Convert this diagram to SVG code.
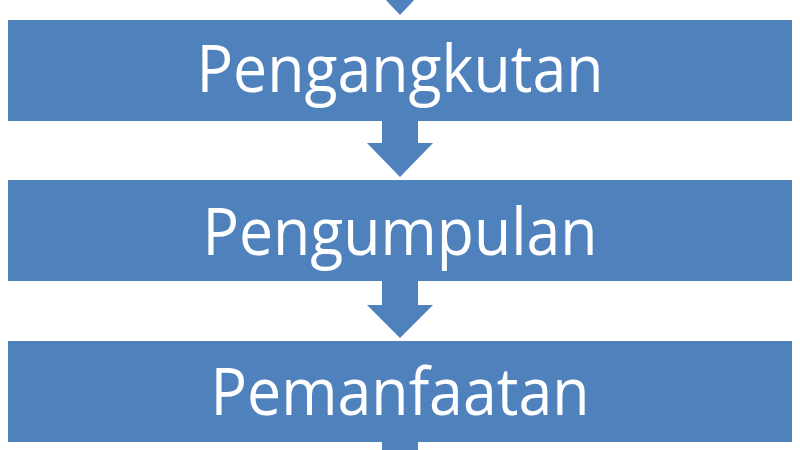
<svg xmlns="http://www.w3.org/2000/svg" width="800" height="450" viewBox="0 0 800 450">
<style>
.box{fill:#4F81BD}
.arr{fill:#4F81BD}
.lbl{fill:#FFFFFF;font-family:"Open Sans","Liberation Sans",sans-serif;font-size:65px;text-anchor:middle}
</style>
<rect width="800" height="450" fill="#FFFFFF"/>
<g id="connectors">
<polygon class="arr" points="367,-20 433,-20 400,15"/>
<polygon class="arr" points="382,121 418,121 418,143 433,143 400,177 367,143 382,143"/>
<polygon class="arr" points="382,281 418,281 418,305 433,305 400,338 367,305 382,305"/>
<rect class="arr" x="382" y="442" width="36" height="10"/>
</g>
<g id="node1">
<rect class="box" x="8" y="20" width="784" height="101"/>
<text class="lbl" x="400" y="92" textLength="407" lengthAdjust="spacingAndGlyphs">Pengangkutan</text>
</g>
<g id="node2">
<rect class="box" x="8" y="180" width="784" height="101"/>
<text class="lbl" x="400" y="255" textLength="395" lengthAdjust="spacingAndGlyphs">Pengumpulan</text>
</g>
<g id="node3">
<rect class="box" x="8" y="341" width="784" height="101"/>
<text class="lbl" x="400" y="415" textLength="379" lengthAdjust="spacingAndGlyphs">Pemanfaatan</text>
</g>
</svg>
